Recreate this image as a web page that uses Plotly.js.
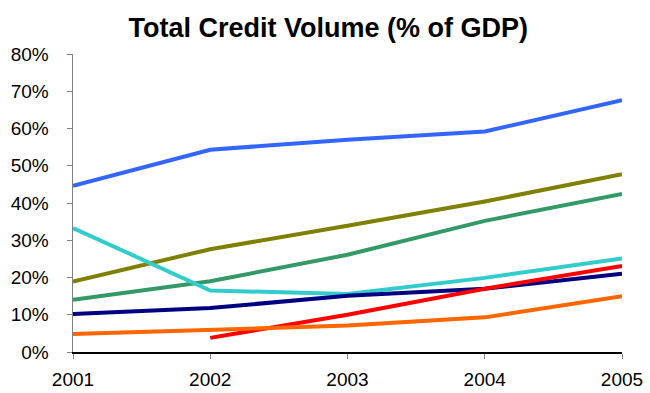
<!DOCTYPE html>
<html>
<head>
<meta charset="utf-8">
<script src="https://cdn.plot.ly/plotly-3.0.1.min.js"></script>
<style>html,body{margin:0;padding:0;background:#fff;}#chart{width:650px;height:393px;}</style>
</head>
<body>
<div id="chart"></div>
<script>
const years = ["2001", "2002", "2003", "2004", "2005"];
const seriesBlue   = [44.6, 54.3, 57.0, 59.2, 67.6];
const seriesOlive  = [18.9, 27.6, 33.9, 40.4, 47.7];
const seriesGreen  = [14.0, 19.0, 26.1, 35.2, 42.4];
const seriesCyan   = [33.3, 16.5, 15.6, 19.9, 25.1];
const seriesNavy   = [10.2, 11.8, 15.1, 17.0, 21.0];
const seriesRed    = [null, 3.8, 10.0, 17.0, 23.1];
const seriesOrange = [4.8, 6.0, 7.1, 9.3, 15.0];
const yTicks = [0, 10, 20, 30, 40, 50, 60, 70, 80];
const yTickLabels = yTicks.map(v => v + "%");

const series = [
  {y: seriesBlue, color: "#3366FF"},
  {y: seriesOlive, color: "#808000"},
  {y: seriesGreen, color: "#339966"},
  {y: seriesCyan, color: "#33CCCC"},
  {y: seriesNavy, color: "#000080"},
  {y: seriesRed, color: "#FF0000"},
  {y: seriesOrange, color: "#FF6600"}
];
const traces = series.map(s => ({
  x: [0, 1, 2, 3, 4], y: s.y, type: "scatter", mode: "lines",
  line: {color: s.color, width: 4}, connectgaps: false, hoverinfo: "none"
}));

const layout = {
  width: 650, height: 393,
  margin: {l: 73, r: 28, t: 54, b: 41},
  paper_bgcolor: "#fff", plot_bgcolor: "#fff",
  showlegend: false,
  title: {text: "<b>Total Credit Volume (% of GDP)</b>", x: 0.505, xanchor: "center",
          yref: "container", y: 0.93, yanchor: "middle",
          font: {family: "Liberation Sans, Arial, sans-serif", size: 27, color: "#000"}},
  xaxis: {
    range: [0, 4], tickvals: [0, 1, 2, 3, 4], ticktext: years,
    showgrid: false, zeroline: false, showline: true, linecolor: "#000", linewidth: 1.5,
    ticks: "outside", ticklen: 5, tickcolor: "#808080", tickwidth: 1,
    ticklabelstandoff: 5,
    tickfont: {family: "Liberation Sans, Arial, sans-serif", size: 19, color: "#000"}
  },
  yaxis: {
    range: [0, 80], tickvals: yTicks, ticktext: yTickLabels,
    showgrid: false, zeroline: false, showline: true, linecolor: "#808080", linewidth: 1.5,
    ticks: "outside", ticklen: 5, tickcolor: "#808080", tickwidth: 1,
    ticklabelstandoff: 14,
    tickfont: {family: "Liberation Sans, Arial, sans-serif", size: 19, color: "#000"}
  }
};
Plotly.newPlot("chart", traces, layout, {staticPlot: true, displayModeBar: false});
</script>
</body>
</html>
